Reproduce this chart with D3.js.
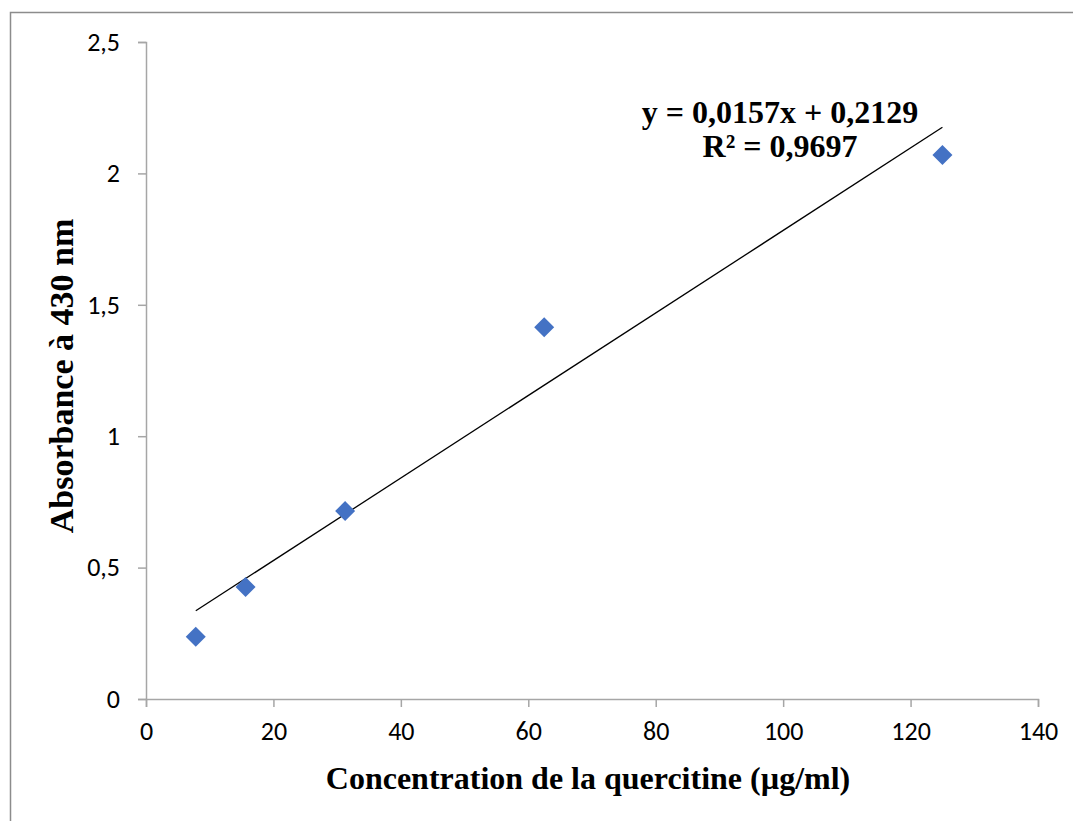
<!DOCTYPE html>
<html><head><meta charset="utf-8">
<script src="https://cdn.jsdelivr.net/npm/d3@7"></script>
<style>body{margin:0;background:#fff;}svg{display:block;}</style>
</head><body>
<svg id="chart" width="1073" height="821"></svg>
<script>
const concentrations = [7.8125, 15.625, 31.25, 62.5, 125];
const absorbances = [0.237, 0.426, 0.715, 1.415, 2.07];
const xTicks = [0, 20, 40, 60, 80, 100, 120, 140];
const yTicks = [0, 0.5, 1, 1.5, 2, 2.5];
const slope = 0.0157, intercept = 0.2129;
const eqLines = ["y = 0,0157x + 0,2129", "R² = 0,9697"];

const svg = d3.select("#chart");
svg.append("rect").attr("x",10.5).attr("y",12.5).attr("width",1080).attr("height",830)
  .attr("fill","#fff").attr("stroke","#8c8c8c").attr("stroke-width",1.5);

const x = d3.scaleLinear().domain([0,140]).range([146,1038]);
const y = d3.scaleLinear().domain([0,2.5]).range([699,42]);
const fmt = d => String(d).replace(".", ",");

const xAxis = svg.append("g").attr("transform","translate(0,699)")
  .call(d3.axisBottom(x).tickValues(xTicks).tickSize(8).tickSizeOuter(8).tickPadding(15).tickFormat(fmt));
const yAxis = svg.append("g").attr("transform","translate(146,0)")
  .call(d3.axisLeft(y).tickValues(yTicks).tickSize(8).tickSizeOuter(8).tickPadding(18).tickFormat(fmt));
[xAxis,yAxis].forEach(a=>{
  a.selectAll("path,line").attr("stroke","#a6a6a6").attr("stroke-width",1.5);
  a.selectAll("text").style("font-family","Carlito, 'Open Sans', 'Noto Sans', sans-serif").style("font-size","26px").attr("fill","#000");
});

// trend line
const line = d3.line().x(d=>x(d)).y(d=>y(slope*d+intercept));
svg.append("path").datum([d3.min(concentrations), d3.max(concentrations)])
  .attr("d",line).attr("stroke","#000").attr("stroke-width",1.3).attr("fill","none");

// markers
const data = concentrations.map((c,i)=>({c, a:absorbances[i]}));
svg.selectAll("path.pt").data(data).join("path").attr("class","pt")
  .attr("d", d3.symbol().type(d3.symbolSquare).size(200))
  .attr("transform", d=>`translate(${x(d.c)},${y(d.a)}) rotate(45)`)
  .attr("fill","#4472C4");

// equation
svg.selectAll("text.eq").data(eqLines).join("text").attr("class","eq")
  .attr("x",780).attr("y",(d,i)=>123+i*34).attr("text-anchor","middle")
  .attr("font-family","'Liberation Serif', 'Times New Roman', serif").attr("font-weight","bold")
  .attr("font-size",32).text(d=>d);

// axis titles
svg.append("text").attr("x",588).attr("y",789).attr("text-anchor","middle")
  .attr("font-family","'Liberation Serif', 'Times New Roman', serif").attr("font-weight","bold")
  .attr("font-size",32).text("Concentration de la quercitine (µg/ml)");
svg.append("text").attr("transform","translate(73,376) rotate(-90)").attr("text-anchor","middle")
  .attr("font-family","'Liberation Serif', 'Times New Roman', serif").attr("font-weight","bold")
  .attr("font-size",34).text("Absorbance à 430 nm");
</script>
</body></html>
